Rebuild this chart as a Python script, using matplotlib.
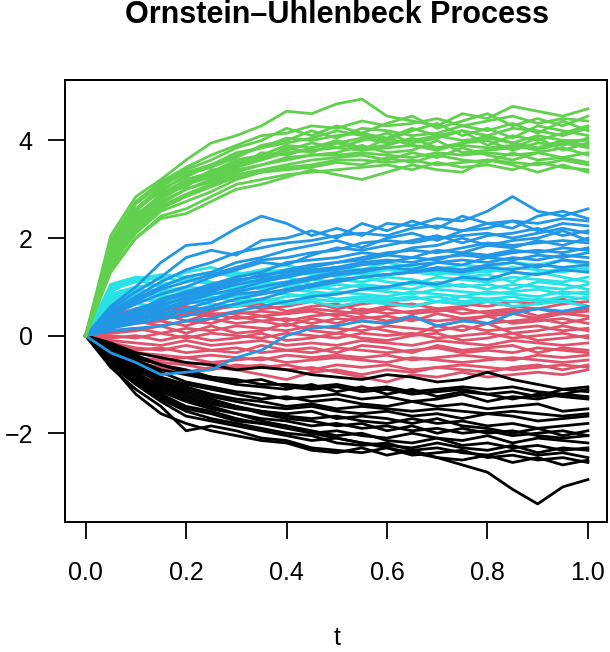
import numpy as np
import matplotlib
matplotlib.use("Agg")
import matplotlib.pyplot as plt

t = [0.0, 0.05, 0.1, 0.15, 0.2, 0.25, 0.3, 0.35, 0.4, 0.45, 0.5,
     0.55, 0.6, 0.65, 0.7, 0.75, 0.8, 0.85, 0.9, 0.95, 1.0]

# mu = 0
red_paths = [
    [0, 0.4, 0.55, 0.5, 0.6, 0.5, 0.65, 0.55, 0.6, 0.7, 0.55, 0.65, 0.7, 0.6, 0.7, 0.65, 0.6, 0.7, 0.65, 0.75, 0.6],
    [0, 0.35, 0.5, 0.6, 0.5, 0.55, 0.6, 0.65, 0.5, 0.6, 0.65, 0.5, 0.6, 0.65, 0.55, 0.6, 0.7, 0.6, 0.55, 0.65, 0.7],
    [0, 0.2, 0.45, 0.3, 0.5, 0.45, 0.45, 0.5, 0.45, 0.55, 0.5, 0.45, 0.55, 0.45, 0.5, 0.55, 0.45, 0.5, 0.55, 0.45, 0.5],
    [0, 0.3, 0.4, 0.35, 0.45, 0.4, 0.5, 0.4, 0.45, 0.5, 0.4, 0.55, 0.45, 0.5, 0.55, 0.45, 0.5, 0.55, 0.4, 0.5, 0.55],
    [0, 0.25, 0.35, 0.45, 0.3, 0.45, 0.35, 0.4, 0.3, 0.4, 0.45, 0.35, 0.4, 0.3, 0.45, 0.35, 0.4, 0.45, 0.35, 0.45, 0.4],
    [0, 0.15, 0.3, 0.2, 0.3, 0.25, 0.4, 0.3, 0.2, 0.35, 0.25, 0.4, 0.3, 0.4, 0.2, 0.3, 0.4, 0.25, 0.3, 0.35, 0.25],
    [0, 0.2, 0.25, 0.3, 0.2, 0.35, 0.25, 0.3, 0.35, 0.25, 0.35, 0.3, 0.25, 0.35, 0.3, 0.35, 0.25, 0.3, 0.35, 0.25, 0.35],
    [0, 0.05, 0.1, 0.2, 0.05, 0.2, 0.05, 0.1, 0.25, 0.1, 0.05, 0.2, 0.1, 0.0, 0.2, 0.1, 0.25, 0.05, 0.1, 0.2, 0.1],
    [0, 0.1, 0.15, 0.05, 0.15, 0.1, 0.2, 0.15, 0.1, 0.2, 0.15, 0.1, 0.2, 0.15, 0.1, 0.2, 0.1, 0.15, 0.2, 0.1, 0.15],
    [0, 0.0, -0.05, 0.05, -0.05, 0.05, 0.0, -0.05, 0.05, 0.0, -0.05, 0.05, 0.0, 0.05, -0.05, 0.0, 0.05, -0.05, 0.0, 0.05, -0.05],
    [0, -0.05, 0.0, -0.1, 0.0, -0.1, -0.05, 0.05, -0.1, -0.05, 0.05, -0.05, -0.1, 0.0, 0.05, -0.1, -0.05, 0.05, -0.1, -0.05, 0.0],
    [0, -0.1, -0.15, -0.2, -0.1, -0.2, -0.15, -0.1, -0.2, -0.15, -0.2, -0.1, -0.15, -0.2, -0.1, -0.15, -0.2, -0.1, -0.15, -0.2, -0.15],
    [0, -0.15, -0.25, -0.3, -0.2, -0.3, -0.35, -0.2, -0.3, -0.25, -0.35, -0.2, -0.25, -0.35, -0.2, -0.3, -0.25, -0.2, -0.35, -0.25, -0.3],
    [0, -0.2, -0.3, -0.25, -0.35, -0.3, -0.25, -0.35, -0.3, -0.35, -0.25, -0.3, -0.35, -0.3, -0.25, -0.35, -0.3, -0.35, -0.25, -0.3, -0.35],
    [0, -0.25, -0.35, -0.4, -0.45, -0.4, -0.45, -0.5, -0.4, -0.45, -0.4, -0.45, -0.4, -0.5, -0.45, -0.4, -0.45, -0.5, -0.4, -0.45, -0.4],
    [0, -0.3, -0.45, -0.5, -0.45, -0.55, -0.5, -0.45, -0.55, -0.5, -0.45, -0.5, -0.55, -0.45, -0.5, -0.55, -0.5, -0.45, -0.5, -0.55, -0.5],
    [0, -0.3, -0.5, -0.55, -0.6, -0.7, -0.6, -0.65, -0.6, -0.7, -0.6, -0.65, -0.6, -0.7, -0.65, -0.6, -0.65, -0.7, -0.65, -0.6, -0.65],
    [0, -0.4, -0.55, -0.65, -0.75, -0.65, -0.7, -0.8, -0.9, -0.75, -0.7, -0.8, -0.7, -0.75, -0.65, -0.7, -0.75, -0.65, -0.6, -0.7, -0.6],
    [0, -0.15, -0.35, -0.45, -0.6, -0.55, -0.65, -0.6, -0.7, -0.65, -0.75, -0.85, -0.95, -0.8, -0.85, -0.75, -0.85, -0.8, -0.75, -0.8, -0.7],
]

# mu = -2, slow
black_paths = [
    [0, -0.15, -0.35, -0.45, -0.55, -0.6, -0.7, -0.65, -0.7, -0.8, -0.85, -0.9, -0.8, -0.85, -0.95, -0.9, -0.75, -0.9, -1.0, -1.1, -1.05],
    [0, -0.2, -0.4, -0.6, -0.75, -0.85, -0.9, -1.0, -1.0, -1.05, -1.0, -1.1, -1.05, -1.15, -1.1, -1.05, -1.1, -1.05, -1.15, -1.2, -1.1],
    [0, -0.25, -0.45, -0.6, -0.7, -0.85, -0.95, -0.9, -1.05, -1.1, -1.05, -1.15, -1.1, -1.2, -1.15, -1.1, -1.2, -1.15, -1.25, -1.1, -1.15],
    [0, -0.3, -0.5, -0.7, -0.8, -0.9, -1.0, -1.05, -1.1, -1.0, -1.15, -1.05, -1.2, -1.1, -1.25, -1.15, -1.2, -1.3, -1.2, -1.25, -1.3],
    [0, -0.3, -0.55, -0.75, -0.95, -1.05, -1.15, -1.2, -1.3, -1.25, -1.2, -1.3, -1.25, -1.35, -1.3, -1.2, -1.35, -1.25, -1.3, -1.2, -1.25],
    [0, -0.35, -0.6, -0.85, -1.0, -1.1, -1.2, -1.3, -1.25, -1.35, -1.3, -1.4, -1.45, -1.35, -1.45, -1.4, -1.5, -1.45, -1.4, -1.55, -1.5],
    [0, -0.4, -0.65, -0.9, -1.05, -1.2, -1.3, -1.35, -1.45, -1.4, -1.5, -1.45, -1.5, -1.55, -1.5, -1.55, -1.6, -1.55, -1.6, -1.65, -1.6],
    [0, -0.4, -0.7, -0.95, -1.1, -1.25, -1.35, -1.45, -1.5, -1.45, -1.55, -1.6, -1.55, -1.65, -1.6, -1.7, -1.6, -1.65, -1.75, -1.7, -1.65],
    [0, -0.45, -0.8, -1.0, -1.2, -1.35, -1.45, -1.55, -1.6, -1.55, -1.7, -1.65, -1.7, -1.8, -1.7, -1.85, -1.9, -2.0, -1.9, -2.05, -1.95],
    [0, -0.45, -0.75, -1.05, -1.25, -1.4, -1.5, -1.55, -1.65, -1.7, -1.65, -1.75, -1.8, -1.7, -1.8, -1.75, -1.85, -1.8, -1.9, -1.85, -1.8],
    [0, -0.35, -0.7, -0.95, -1.15, -1.3, -1.45, -1.6, -1.7, -1.75, -1.85, -1.8, -1.95, -1.85, -2.0, -1.9, -2.0, -1.95, -2.05, -2.1, -2.05],
    [0, -0.5, -0.85, -1.15, -1.35, -1.5, -1.6, -1.7, -1.75, -1.85, -1.8, -1.9, -1.85, -1.95, -1.9, -2.0, -1.95, -2.05, -2.0, -1.95, -2.05],
    [0, -0.55, -0.9, -1.25, -1.5, -1.6, -1.75, -1.8, -1.9, -2.0, -1.95, -2.05, -2.1, -2.0, -2.1, -2.15, -2.05, -2.2, -2.1, -2.15, -2.2],
    [0, -0.5, -0.9, -1.2, -1.45, -1.55, -1.7, -1.8, -1.85, -1.95, -2.05, -2.0, -2.15, -2.2, -2.1, -2.25, -2.2, -2.3, -2.25, -2.35, -2.3],
    [0, -0.6, -1.0, -1.35, -1.65, -1.75, -1.85, -1.95, -2.05, -2.15, -2.1, -2.2, -2.25, -2.3, -2.2, -2.3, -2.35, -2.25, -2.4, -2.3, -2.35],
    [0, -0.55, -0.95, -1.3, -1.55, -1.7, -1.8, -1.9, -2.0, -2.05, -2.2, -2.25, -2.2, -2.35, -2.3, -2.4, -2.45, -2.35, -2.45, -2.4, -2.5],
    [0, -0.65, -1.1, -1.45, -1.95, -1.85, -1.95, -2.1, -2.15, -2.3, -2.35, -2.4, -2.3, -2.45, -2.4, -2.35, -2.5, -2.45, -2.55, -2.5, -2.6],
    [0, -0.6, -1.2, -1.6, -1.8, -1.95, -2.05, -2.15, -2.2, -2.35, -2.4, -2.3, -2.45, -2.35, -2.5, -2.55, -2.45, -2.6, -2.5, -2.65, -2.55],
    [0, -0.5, -0.8, -1.1, -1.3, -1.45, -1.6, -1.75, -1.85, -2.0, -2.1, -2.2, -2.3, -2.4, -2.5, -2.65, -2.8, -3.15, -3.45, -3.1, -2.95],
]

# mu = 1, fast
cyan_paths = [
    [0, 1.05, 1.2, 1.15, 1.3, 1.4, 1.25, 1.35, 1.45, 1.3, 1.4, 1.35, 1.5, 1.4, 1.35, 1.45, 1.4, 1.5, 1.45, 1.55, 1.45],
    [0, 1.0, 1.15, 1.25, 1.2, 1.3, 1.2, 1.3, 1.35, 1.25, 1.3, 1.25, 1.35, 1.3, 1.25, 1.35, 1.3, 1.4, 1.35, 1.3, 1.4],
    [0, 0.95, 1.1, 1.2, 1.1, 1.25, 1.3, 1.2, 1.25, 1.35, 1.2, 1.3, 1.25, 1.35, 1.3, 1.25, 1.35, 1.3, 1.25, 1.4, 1.35],
    [0, 0.9, 1.15, 1.0, 1.2, 1.1, 1.0, 1.15, 1.2, 1.05, 1.15, 1.1, 1.2, 1.15, 1.05, 1.2, 1.25, 1.1, 1.3, 1.2, 1.1],
    [0, 0.85, 1.0, 1.05, 1.15, 1.05, 1.15, 1.1, 1.0, 1.15, 1.1, 1.2, 1.1, 1.05, 1.2, 1.15, 1.1, 1.2, 1.15, 1.1, 1.2],
    [0, 0.8, 0.95, 0.9, 1.0, 0.95, 1.05, 0.95, 1.05, 1.0, 0.95, 1.05, 1.0, 0.95, 1.1, 1.0, 1.05, 0.95, 1.1, 1.05, 0.95],
    [0, 0.75, 0.9, 0.95, 0.9, 1.0, 0.95, 1.05, 1.1, 0.95, 1.05, 1.0, 0.95, 1.1, 1.0, 1.05, 0.95, 1.05, 1.0, 0.95, 1.05],
    [0, 0.7, 0.85, 0.8, 0.85, 0.9, 0.8, 0.9, 0.85, 0.8, 0.9, 0.85, 0.8, 0.9, 0.85, 0.8, 0.9, 0.85, 0.8, 0.9, 0.85],
    [0, 0.65, 0.8, 0.85, 0.95, 0.85, 0.9, 0.85, 0.95, 0.9, 0.85, 0.95, 0.9, 0.85, 0.95, 0.9, 0.85, 0.9, 0.95, 0.85, 0.9],
    [0, 0.6, 0.75, 0.7, 0.8, 0.75, 0.8, 0.7, 0.8, 0.85, 0.75, 0.8, 0.75, 0.8, 0.7, 0.8, 0.75, 0.8, 0.7, 0.8, 0.75],
    [0, 0.55, 0.7, 0.75, 0.7, 0.8, 0.7, 0.75, 0.7, 0.75, 0.7, 0.75, 0.7, 0.75, 0.8, 0.7, 0.75, 0.7, 0.75, 0.7, 0.8],
    [0, 0.5, 0.65, 0.6, 0.7, 0.65, 0.6, 0.7, 0.65, 0.7, 0.6, 0.7, 0.65, 0.6, 0.7, 0.65, 0.7, 0.6, 0.65, 0.7, 0.6],
]

# mu = 2, slow
blue_paths = [
    [0, 0.6, 1.0, 1.5, 1.85, 1.9, 2.2, 2.45, 2.3, 2.05, 2.2, 2.05, 2.3, 2.25, 2.4, 2.35, 2.55, 2.85, 2.55, 2.45, 2.6],
    [0, 0.55, 0.9, 1.2, 1.6, 1.75, 1.65, 1.95, 2.0, 2.15, 2.0, 2.3, 2.15, 2.35, 2.2, 2.45, 2.3, 2.2, 2.45, 2.55, 2.4],
    [0, 0.5, 0.8, 1.1, 1.35, 1.5, 1.7, 1.8, 1.9, 1.95, 2.05, 2.1, 2.05, 2.2, 2.25, 2.15, 2.3, 2.35, 2.3, 2.4, 2.35],
    [0, 0.45, 0.75, 1.0, 1.2, 1.3, 1.5, 1.6, 1.75, 1.85, 1.95, 1.8, 2.0, 2.1, 1.95, 2.15, 2.2, 2.35, 2.15, 2.3, 2.25],
    [0, 0.45, 0.7, 0.95, 1.1, 1.25, 1.4, 1.55, 1.6, 1.7, 1.75, 1.9, 1.95, 1.9, 2.0, 2.05, 2.1, 2.0, 2.1, 2.2, 2.1],
    [0, 0.4, 0.65, 0.85, 1.0, 1.2, 1.35, 1.5, 1.45, 1.65, 1.8, 1.75, 1.85, 1.95, 2.05, 1.9, 2.05, 2.1, 2.2, 2.05, 2.15],
    [0, 0.35, 0.5, 0.75, 0.9, 1.05, 1.2, 1.3, 1.5, 1.55, 1.6, 1.7, 1.65, 1.8, 1.85, 2.0, 1.85, 1.95, 2.0, 2.15, 1.95],
    [0, 0.35, 0.55, 0.7, 0.85, 1.0, 1.15, 1.2, 1.35, 1.45, 1.5, 1.6, 1.7, 1.75, 1.7, 1.8, 1.9, 1.85, 1.9, 1.95, 1.9],
    [0, 0.3, 0.45, 0.6, 0.8, 0.95, 1.1, 1.25, 1.3, 1.4, 1.5, 1.55, 1.65, 1.6, 1.75, 1.7, 1.85, 1.8, 1.95, 1.85, 2.0],
    [0, 0.3, 0.5, 0.65, 0.75, 0.9, 1.05, 1.15, 1.25, 1.35, 1.4, 1.5, 1.55, 1.5, 1.6, 1.65, 1.6, 1.7, 1.75, 1.7, 1.8],
    [0, 0.25, 0.4, 0.55, 0.7, 0.85, 0.95, 1.1, 1.2, 1.3, 1.35, 1.45, 1.5, 1.6, 1.55, 1.7, 1.65, 1.75, 1.7, 1.8, 1.75],
    [0, 0.25, 0.35, 0.5, 0.65, 0.75, 0.9, 1.0, 1.1, 1.2, 1.3, 1.35, 1.4, 1.45, 1.5, 1.55, 1.5, 1.6, 1.55, 1.65, 1.6],
    [0, 0.2, 0.3, 0.45, 0.55, 0.7, 0.85, 0.9, 1.05, 1.15, 1.25, 1.3, 1.4, 1.35, 1.5, 1.45, 1.6, 1.55, 1.65, 1.6, 1.7],
    [0, 0.2, 0.3, 0.4, 0.5, 0.6, 0.75, 0.85, 0.95, 1.05, 1.15, 1.2, 1.25, 1.3, 1.35, 1.3, 1.4, 1.35, 1.45, 1.4, 1.45],
    [0, 0.15, 0.25, 0.35, 0.4, 0.55, 0.65, 0.75, 0.9, 1.0, 1.1, 1.2, 1.25, 1.3, 1.4, 1.35, 1.45, 1.5, 1.4, 1.55, 1.5],
    [0, 0.1, 0.15, 0.2, 0.3, 0.35, 0.5, 0.6, 0.7, 0.8, 0.85, 0.95, 1.0, 1.1, 1.05, 1.2, 1.15, 1.3, 1.25, 1.35, 1.3],
    [0, -0.35, -0.55, -0.8, -0.75, -0.7, -0.45, -0.3, 0.0, 0.15, 0.2, 0.3, 0.25, 0.4, 0.2, 0.3, 0.25, 0.45, 0.55, 0.5, 0.6],
]

# mu = 4, fast
green_paths = [
    [0, 2.05, 2.85, 3.2, 3.6, 3.95, 4.1, 4.3, 4.6, 4.55, 4.75, 4.85, 4.5, 4.4, 4.3, 4.55, 4.45, 4.7, 4.6, 4.5, 4.65],
    [0, 1.95, 2.75, 3.15, 3.45, 3.7, 3.9, 4.1, 4.15, 4.3, 4.25, 4.4, 4.3, 4.35, 4.45, 4.3, 4.4, 4.5, 4.35, 4.45, 4.4],
    [0, 1.9, 2.7, 3.1, 3.4, 3.6, 3.85, 4.0, 4.25, 4.1, 4.3, 4.15, 4.35, 4.5, 4.25, 4.4, 4.55, 4.3, 4.45, 4.3, 4.5],
    [0, 1.85, 2.6, 2.95, 3.3, 3.45, 3.65, 3.9, 4.0, 4.2, 4.05, 4.25, 4.2, 4.1, 4.15, 4.3, 4.2, 4.35, 4.15, 4.4, 4.2],
    [0, 1.8, 2.6, 3.05, 3.35, 3.5, 3.75, 3.85, 4.05, 4.0, 4.1, 4.15, 4.05, 4.25, 4.1, 4.2, 4.1, 4.25, 4.2, 4.1, 4.25],
    [0, 1.8, 2.55, 3.0, 3.25, 3.5, 3.7, 3.85, 3.95, 4.05, 4.2, 4.1, 4.0, 4.2, 4.35, 4.1, 4.25, 4.05, 4.3, 4.2, 4.1],
    [0, 1.75, 2.45, 2.85, 3.15, 3.3, 3.55, 3.65, 3.8, 3.95, 3.85, 4.0, 4.15, 3.95, 4.05, 4.2, 3.9, 4.1, 4.0, 4.15, 4.3],
    [0, 1.7, 2.45, 2.9, 3.2, 3.35, 3.6, 3.7, 3.9, 3.85, 3.95, 4.05, 3.95, 4.0, 4.1, 4.0, 4.05, 3.95, 4.1, 4.0, 4.0],
    [0, 1.7, 2.5, 2.8, 3.2, 3.3, 3.5, 3.6, 3.85, 3.75, 3.95, 3.8, 4.05, 3.9, 3.8, 3.95, 4.0, 3.8, 3.95, 3.9, 4.05],
    [0, 1.65, 2.4, 2.9, 3.05, 3.4, 3.45, 3.75, 3.7, 3.85, 4.0, 3.85, 3.9, 4.05, 3.85, 3.95, 4.1, 3.95, 3.85, 4.0, 3.9],
    [0, 1.6, 2.35, 2.8, 3.1, 3.25, 3.45, 3.6, 3.75, 3.8, 3.85, 3.8, 3.85, 3.9, 3.85, 3.9, 3.85, 3.9, 3.8, 3.95, 3.85],
    [0, 1.6, 2.3, 2.75, 3.0, 3.2, 3.4, 3.5, 3.65, 3.7, 3.75, 3.9, 3.75, 3.8, 4.0, 3.75, 3.8, 3.85, 4.05, 3.8, 3.95],
    [0, 1.55, 2.25, 2.7, 3.0, 3.15, 3.35, 3.5, 3.6, 3.7, 3.7, 3.75, 3.7, 3.65, 3.75, 3.7, 3.75, 3.7, 3.75, 3.65, 3.75],
    [0, 1.5, 2.2, 2.65, 2.9, 3.1, 3.3, 3.4, 3.5, 3.6, 3.65, 3.7, 3.6, 3.75, 3.65, 3.85, 3.7, 3.6, 3.75, 3.85, 3.7],
    [0, 1.45, 2.1, 2.55, 2.75, 2.95, 3.2, 3.35, 3.4, 3.45, 3.55, 3.5, 3.65, 3.55, 3.7, 3.6, 3.55, 3.75, 3.6, 3.65, 3.55],
    [0, 1.4, 2.15, 2.6, 2.85, 3.05, 3.25, 3.35, 3.45, 3.5, 3.6, 3.6, 3.55, 3.6, 3.5, 3.55, 3.6, 3.55, 3.5, 3.6, 3.5],
    [0, 1.35, 2.0, 2.45, 2.6, 2.85, 3.1, 3.2, 3.3, 3.35, 3.4, 3.45, 3.5, 3.4, 3.55, 3.45, 3.5, 3.4, 3.55, 3.45, 3.4],
    [0, 1.3, 2.0, 2.4, 2.5, 2.75, 3.0, 3.1, 3.25, 3.4, 3.3, 3.2, 3.35, 3.5, 3.4, 3.35, 3.6, 3.5, 3.35, 3.5, 3.35],
]

plt.rcParams['font.family'] = ['Liberation Sans', 'DejaVu Sans']

fig = plt.figure(figsize=(6.1, 6.52), dpi=100)
ax = fig.add_axes([65 / 610, 1 - 522 / 652, 542 / 610, 442 / 652])

groups = [(red_paths, '#DF536B'), (black_paths, 'black'), (cyan_paths, '#28E2E5'),
          (blue_paths, '#2297E6'), (green_paths, '#61D04F')]
for paths, col in groups:
    for p in paths:
        ax.plot(t, p, color=col, lw=2.0)

ax.set_xlim(-0.041, 1.038)
ax.set_ylim(-3.82, 5.24)
ax.set_xticks([0.0, 0.2, 0.4, 0.6, 0.8, 1.0])
ax.set_xticklabels(['0.0', '0.2', '0.4', '0.6', '0.8', '1.0'])
ax.set_yticks([-2, 0, 2, 4])
ax.set_yticklabels(['\u22122', '0', '2', '4'])
ax.tick_params(axis='both', length=12.2, width=1.3, labelsize=18, direction='out')
ax.tick_params(axis='x', pad=16)
ax.tick_params(axis='y', pad=11)
for s in ax.spines.values():
    s.set_linewidth(1.4)

fig.text(337 / 610, 1 - 638 / 652, 't', ha='center', va='center', fontsize=18)
fig.text(337 / 610, 1 - 15 / 652, 'Ornstein\u2013Uhlenbeck Process', ha='center', va='center',
         fontsize=22, fontweight='bold')

fig.savefig('out.png', dpi=100)
